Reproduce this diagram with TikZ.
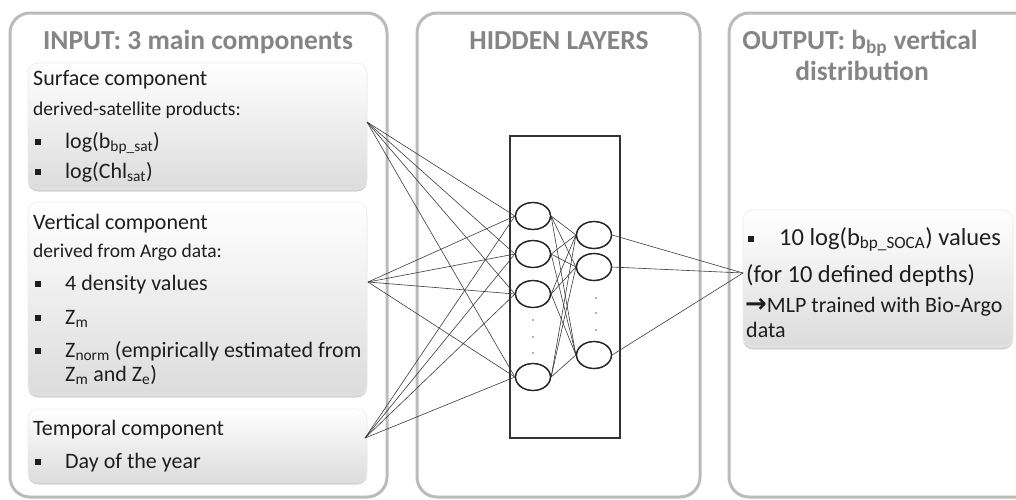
\documentclass[tikz,border=0pt]{standalone}
\usepackage{fontspec}
\setmainfont{Carlito}
\newfontfamily\dejavu{DejaVu Sans}
\usetikzlibrary{shapes.geometric,shadows}
\definecolor{panelgray}{HTML}{BBBBBB}
\definecolor{titlegray}{HTML}{858585}
\definecolor{boxgray}{HTML}{DCDCDC}
\definecolor{txt}{HTML}{1E1E1E}
\definecolor{netline}{HTML}{3A3A3A}
\newcommand\myfs[1]{\fontsize{#1}{#1}\selectfont}
\newcommand\bul{\rule[3.5pt]{5.5pt}{5.5pt}}
\begin{document}
\begin{tikzpicture}[x=1pt,y=-1pt,
  panel/.style={draw=panelgray, line width=3pt, rounded corners=20pt},
  compbox/.style={rounded corners=10pt, top color=white, bottom color=boxgray,
    draw=black!8, line width=0.6pt,
    drop shadow={shadow xshift=0pt, shadow yshift=-2.5pt, opacity=0.35}},
  title/.style={font=\myfs{27.5}\bfseries, text=titlegray, anchor=base, inner sep=0pt},
  head/.style={font=\myfs{22}, text=txt, anchor=base west, inner sep=0pt},
  sub/.style={font=\myfs{19.5}, text=txt, anchor=base west, inner sep=0pt},
  item/.style={font=\myfs{22}, text=txt, anchor=base west, inner sep=0pt},
  neuron/.style={ellipse, draw=black!85, line width=1.2pt, fill=white,
    minimum width=35pt, minimum height=27pt, inner sep=0pt},
  link/.style={draw=netline, line width=0.6pt},
  dotmark/.style={fill=black!60}
]
\useasboundingbox (0,0) rectangle (1016,499);
\clip (0,0) rectangle (1016,499);

% panels
\draw[panel] (10,13) rectangle (387,497);
\draw[panel] (417,13) rectangle (700,497);
\draw[panel] (729,13) rectangle (1040,497);

% titles
\node[title] (t1) at (198,49) {INPUT: 3 main components};
\node[title] (t2) at (559,49) {HIDDEN LAYERS};
\node[title] (t3) at (860,49) {OUTPUT: b\textsubscript{bp} vertical};
\node[title] (t4) at (862,80) {distribution};

% component boxes
\path[compbox] (28,63) rectangle (367,189);
\path[compbox] (28,202) rectangle (367,395);
\path[compbox] (28,409) rectangle (367,482);
\path[compbox] (743,210) rectangle (1013,347);

% surface component
\node[head] (s1) at (33,85) {Surface component};
\node[sub]  (s2) at (33,115) {derived-satellite products:};
\node[item] (s3) at (35,148) {\makebox[30pt][l]{\bul}log(b\textsubscript{bp\_sat})};
\node[item] (s4) at (35,178) {\makebox[30pt][l]{\bul}log(Chl\textsubscript{sat})};

% vertical component
\node[head] (v1) at (33,229) {Vertical component};
\node[sub]  (v2) at (33,257) {derived from Argo data:};
\node[item] (v3) at (35,290) {\makebox[30pt][l]{\bul}4 density values};
\node[item] (v4) at (35,324) {\makebox[30pt][l]{\bul}Z\textsubscript{m}};
\node[item] (v5) at (35,357) {\makebox[30pt][l]{\bul}Z\textsubscript{norm} (empirically estimated from};
\node[item] (v6) at (65,381) {Z\textsubscript{m} and Z\textsubscript{e})};

% temporal component
\node[head] (p1) at (33,435) {Temporal component};
\node[item] (p2) at (35,468) {\makebox[30pt][l]{\bul}Day of the year};

% output
\node[item, font=\myfs{24.5}] (o1) at (748,245) {\makebox[31pt][l]{\bul}10 log(b\textsubscript{bp\_SOCA}) values};
\node[item, font=\myfs{24.5}] (o2) at (746,282) {(for 10 defined depths)};
\node[item] (o3) at (745,312) {{\dejavu\bfseries\fontsize{26}{26}\selectfont →}MLP trained with Bio-Argo};
\node[item] (o4) at (746,337) {data};

% connection points
\coordinate (surf) at (367,122);
\coordinate (vert) at (368,282);
\coordinate (temp) at (365,438);
\coordinate (outp) at (743,273);

% hidden layer frame
\node[draw=black!80, line width=1.8pt, minimum width=110pt, minimum height=302pt, inner sep=0pt] (frame) at (565,287) {};

% neurons
\node[neuron] (a1) at (533,216) {};
\node[neuron] (a2) at (533,254) {};
\node[neuron] (a3) at (533,294) {};
\node[neuron] (a4) at (533,377) {};
\node[neuron] (b1) at (594,235) {};
\node[neuron] (b2) at (594,267) {};
\node[neuron] (b3) at (594,355) {};

% links
\foreach \s in {surf,vert,temp}
  \foreach \t in {a1,a2,a3,a4}
    \draw[link] (\s) -- (\t.west);
\foreach \s in {a1,a2,a3,a4}
  \foreach \t in {b1,b2,b3}
    \draw[link] (\s.east) -- (\t.west);
\foreach \s in {b1,b2,b3}
  \draw[link] (\s.east) -- (outp);

% redraw neurons above links
\foreach \n in {a1,a2,a3,a4,b1,b2,b3}
  \draw[black!85, line width=1.2pt] (\n.center) ellipse (17.5pt and 13.5pt);

% ellipsis dots
\foreach \y in {320,337,353} \fill[dotmark] (533,\y) circle (0.9pt);
\foreach \y in {298,313,330} \fill[dotmark] (596,\y) circle (0.9pt);
\end{tikzpicture}
\end{document}
